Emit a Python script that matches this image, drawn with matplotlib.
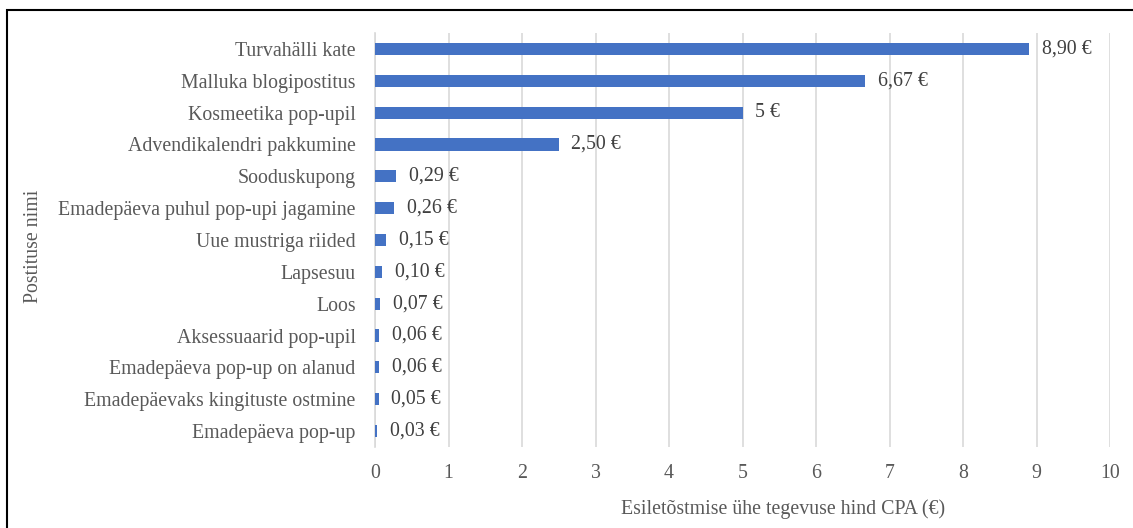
import matplotlib.pyplot as plt
from matplotlib.patches import Rectangle

postitused = [
    "Turvahälli kate",
    "Malluka blogipostitus",
    "Kosmeetika pop-upil",
    "Advendikalendri pakkumine",
    "Sooduskupong",
    "Emadepäeva puhul pop-upi jagamine",
    "Uue mustriga riided",
    "Lapsesuu",
    "Loos",
    "Aksessuaarid pop-upil",
    "Emadepäeva pop-up on alanud",
    "Emadepäevaks kingituste ostmine",
    "Emadepäeva pop-up",
]
cpa = [8.90, 6.67, 5.00, 2.50, 0.29, 0.26, 0.15, 0.10, 0.07, 0.06, 0.06, 0.05, 0.03]
sildid = ["8,90 €", "6,67 €", "5 €", "2,50 €", "0,29 €", "0,26 €", "0,15 €",
          "0,10 €", "0,07 €", "0,06 €", "0,06 €", "0,05 €", "0,03 €"]
x_ticks = list(range(0, 11))

BAR = "#4472C4"
TEXT = "#595959"
GRID = "#D9D9D9"
FS = 14.3

plt.rcParams["font.family"] = ["Liberation Serif", "DejaVu Serif"]

W, H = 1133, 528
fig = plt.figure(figsize=(W / 100, H / 100), dpi=100)
ax = fig.add_axes([375 / W, 1 - 447 / H, (1110 - 375) / W, (447 - 33) / H])

pos = list(range(len(postitused)))
ax.barh(pos, cpa, height=0.38, color=BAR, zorder=3)
for p, v, s in zip(pos, cpa, sildid):
    ax.annotate(s, (v, p), xytext=(9, 0), textcoords="offset points",
                va="center", ha="left", fontsize=FS, color="#404040")

ax.set_ylim(len(postitused) - 0.5, -0.5)
ax.set_xlim(0, 10)
ax.set_xticks(x_ticks)
ax.set_xticklabels([str(t) for t in x_ticks], fontsize=FS, color=TEXT)
ax.set_yticks(pos)
ax.set_yticklabels(postitused, fontsize=FS, color=TEXT)
ax.tick_params(axis="both", length=0)
ax.tick_params(axis="x", pad=12)
ax.tick_params(axis="y", pad=14)
ax.grid(axis="x", color=GRID, linewidth=1.2, zorder=0)
for side in ["top", "right", "bottom"]:
    ax.spines[side].set_visible(False)
ax.spines["left"].set_color(GRID)
ax.spines["left"].set_linewidth(1.2)

fig.text(783 / W, 1 - 509 / H, "Esiletõstmise ühe tegevuse hind CPA (€)",
         ha="center", va="center", fontsize=FS, color=TEXT)
fig.text(33 / W, 1 - 246 / H, "Postituse nimi", rotation=90,
         ha="center", va="center", fontsize=FS, color=TEXT)

# frame around the chart area
fig.patches.append(Rectangle((7 / W, -0.1), 1.2, 1.1 - 10 / H,
                             transform=fig.transFigure, fill=False,
                             edgecolor="black", linewidth=1.5))

fig.savefig("out.png", dpi=100)
